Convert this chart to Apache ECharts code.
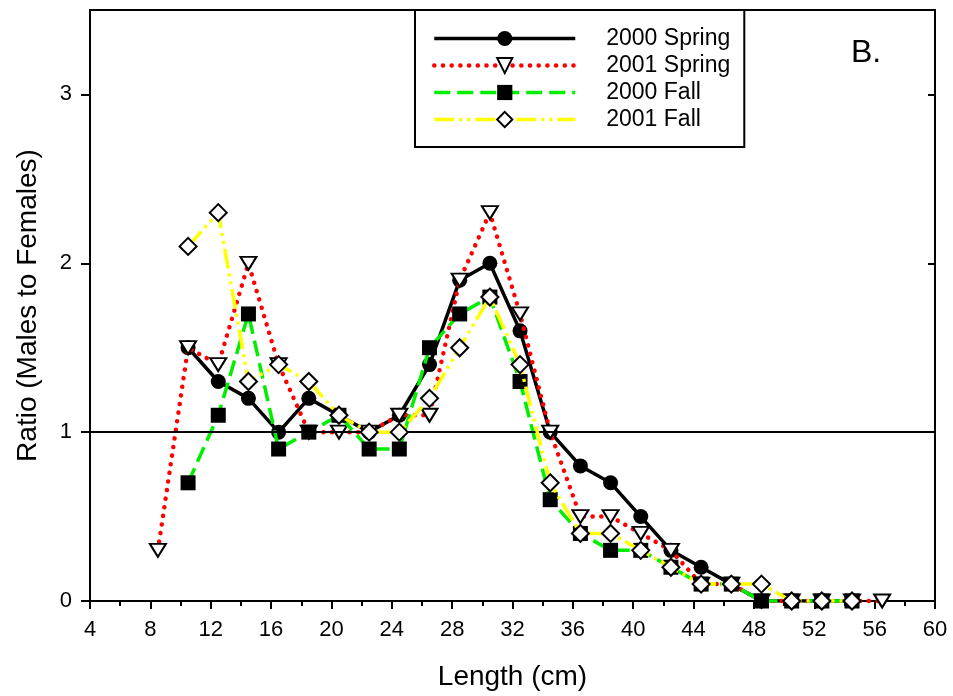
<!DOCTYPE html>
<html>
<head>
<meta charset="utf-8">
<script src="https://cdn.jsdelivr.net/npm/echarts@6/dist/echarts.min.js"></script>
<style>
html,body{margin:0;padding:0;background:#fff;}
#chart{width:953px;height:696px;}
</style>
</head>
<body>
<div id="chart"></div>
<script>
// Length bins (cm)
const lengths = [8.5, 10.5, 12.5, 14.5, 16.5, 18.5, 20.5, 22.5, 24.5, 26.5, 28.5, 30.5, 32.5, 34.5, 36.5, 38.5, 40.5, 42.5, 44.5, 46.5, 48.5, 50.5, 52.5, 54.5, 56.5];
// Ratio (males to females)
const spring2000 = [null, 1.5, 1.3, 1.2, 1.0, 1.2, 1.1, 1.0, 1.1, 1.4, 1.9, 2.0, 1.6, 1.0, 0.8, 0.7, 0.5, 0.3, 0.2, 0.1, 0, 0, 0, 0, null];
const spring2001 = [0.3, 1.5, 1.4, 2.0, 1.4, 1.0, 1.0, 1.0, 1.1, 1.1, 1.9, 2.3, 1.7, 1.0, 0.5, 0.5, 0.4, 0.3, 0.1, 0.1, 0, 0, 0, 0, 0];
const fall2000 = [null, 0.7, 1.1, 1.7, 0.9, 1.0, 1.1, 0.9, 0.9, 1.5, 1.7, 1.8, 1.3, 0.6, 0.4, 0.3, 0.3, 0.2, 0.1, 0.1, 0, 0, 0, 0, null];
const fall2001 = [null, 2.1, 2.3, 1.3, 1.4, 1.3, 1.1, 1.0, 1.0, 1.2, 1.5, 1.8, 1.4, 0.7, 0.4, 0.4, 0.3, 0.2, 0.1, 0.1, 0.1, 0, 0, 0, null];
const seriesNames = ['2000 Spring', '2001 Spring', '2000 Fall', '2001 Fall'];
const xTicks = [4, 8, 12, 16, 20, 24, 28, 32, 36, 40, 44, 48, 52, 56, 60];
const yTicks = [0, 1, 2, 3];

function pairs(vals) {
  const out = [];
  lengths.forEach((x, i) => { if (vals[i] !== null) out.push([x, vals[i]]); });
  return out;
}

const FONT = 'Liberation Sans, Arial, sans-serif';
const chart = echarts.init(document.getElementById('chart'), null, {renderer: 'canvas'});

const option = {
  animation: false,
  backgroundColor: '#fff',
  grid: {left: 90, right: 18, top: 10, bottom: 95, containLabel: false},
  legend: {
    orient: 'vertical',
    left: 415,
    top: 10,
    padding: [15, 14, 14, 17],
    borderColor: '#000',
    borderWidth: 2,
    backgroundColor: '#fff',
    itemWidth: 141,
    itemHeight: 19,
    itemGap: 0,
    lineStyle: {width: 'inherit', type: 'inherit'},
    textStyle: {fontFamily: FONT, fontSize: 23, color: '#000', lineHeight: 27, padding: [0, 0, 0, 26]},
    data: seriesNames
  },
  xAxis: [{
    type: 'value', min: xTicks[0], max: xTicks[xTicks.length - 1], interval: 4,
    name: 'Length (cm)', nameLocation: 'middle', nameGap: 62,
    nameTextStyle: {fontFamily: FONT, fontSize: 28, color: '#000'},
    axisLine: {show: true, onZero: false, lineStyle: {color: '#000', width: 2}},
    axisTick: {show: true, length: 8, lineStyle: {color: '#000', width: 2}},
    minorTick: {show: true, splitNumber: 2, length: 5, lineStyle: {color: '#000', width: 2}},
    axisLabel: {margin: 18, fontFamily: FONT, fontSize: 22, color: '#000'},
    splitLine: {show: false}
  }, {
    type: 'value', min: 4, max: 60, position: 'top',
    axisLine: {show: true, onZero: false, lineStyle: {color: '#000', width: 2}},
    axisTick: {show: false}, axisLabel: {show: false}, splitLine: {show: false}
  }],
  yAxis: [{
    type: 'value', min: 0, max: 3.5, interval: 1,
    name: 'Ratio (Males to Females)', nameLocation: 'middle', nameGap: 48,
    nameTextStyle: {fontFamily: FONT, fontSize: 28, color: '#000'},
    axisLine: {show: true, onZero: false, lineStyle: {color: '#000', width: 2}},
    axisTick: {show: true, length: 9, customValues: yTicks, lineStyle: {color: '#000', width: 2}},
    axisLabel: {margin: 18, fontFamily: FONT, fontSize: 22, color: '#000', customValues: yTicks},
    splitLine: {show: false}
  }, {
    type: 'value', min: 0, max: 3.5, interval: 1, position: 'right',
    axisLine: {show: true, onZero: false, lineStyle: {color: '#000', width: 2}},
    axisTick: {show: true, inside: true, length: 7, customValues: [1, 2, 3], lineStyle: {color: '#000', width: 2}},
    axisLabel: {show: false}, splitLine: {show: false}
  }],
  graphic: [{
    type: 'text', left: 851, top: 37,
    style: {text: 'B.', font: '32px ' + FONT, fill: '#000'}
  }],
  series: [
    {
      name: seriesNames[0], type: 'line', data: pairs(spring2000),
      symbol: 'circle', symbolSize: 15,
      lineStyle: {color: '#000', width: 3.5},
      itemStyle: {color: '#000', borderColor: '#000', borderWidth: 0},
      markLine: {
        silent: true, symbol: 'none', label: {show: false},
        lineStyle: {color: '#000', width: 2, type: 'solid'},
        data: [{yAxis: 1}]
      },
      z: 2
    },
    {
      name: seriesNames[1], type: 'line', data: pairs(spring2001),
      symbol: 'triangle', symbolRotate: 180, symbolSize: [16, 13],
      lineStyle: {color: '#ff0000', width: 4.5, type: [0.1, 8.6], cap: 'round'},
      itemStyle: {color: '#fff', borderColor: '#000', borderWidth: 2},
      z: 3
    },
    {
      name: seriesNames[2], type: 'line', data: pairs(fall2000),
      symbol: 'rect', symbolSize: 15,
      lineStyle: {color: '#00ee00', width: 3.5, type: [16, 7]},
      itemStyle: {color: '#000', borderColor: '#000', borderWidth: 0},
      z: 4
    },
    {
      name: seriesNames[3], type: 'line', data: pairs(fall2001),
      symbol: 'diamond', symbolSize: 17,
      lineStyle: {color: '#ffff00', width: 3.5, type: [20, 5, 3, 5, 3, 5]},
      itemStyle: {color: '#fff', borderColor: '#000', borderWidth: 2},
      z: 5
    }
  ]
};
chart.setOption(option);
</script>
</body>
</html>
